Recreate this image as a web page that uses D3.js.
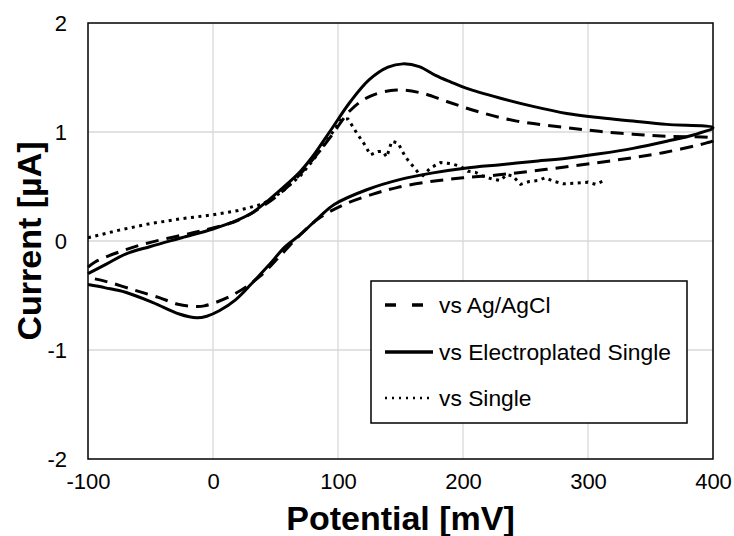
<!DOCTYPE html>
<html>
<head>
<meta charset="utf-8">
<script src="https://cdn.jsdelivr.net/npm/d3@7"></script>
<style>
  html, body { margin: 0; padding: 0; background: #fff; }
  svg { display: block; }
  text { font-family: "Liberation Sans", Arial, sans-serif; fill: #000; }
</style>
</head>
<body>
<svg id="chart" width="734" height="536"></svg>
<script>
// Cyclic voltammograms: potential sweep -100 → 400 → -100 mV
// vs Ag/AgCl (dashed)
const agPotential = [-100, -94, -75, -56, -36, -16, 0, 20, 40, 60, 80, 95, 110, 126, 147, 166, 187, 211, 243, 283, 309, 336, 363, 400,
                     400, 395, 360, 333, 307, 280, 254, 227, 200, 174, 147, 128, 105, 85, 70, 55, 37, 15, -7, -15, -28, -43, -63, -86, -100];
const agCurrent   = [-0.24, -0.19, -0.10, -0.03, 0.025, 0.075, 0.12, 0.19, 0.32, 0.50, 0.75, 0.97, 1.20, 1.33, 1.385, 1.36, 1.28, 1.19, 1.10, 1.04, 1.006, 0.98, 0.96, 0.94,
                     0.92, 0.90, 0.81, 0.76, 0.717, 0.677, 0.64, 0.605, 0.58, 0.545, 0.49, 0.43, 0.335, 0.21, 0.06, -0.12, -0.33, -0.50, -0.595, -0.60, -0.58, -0.52, -0.45, -0.37, -0.335];

// vs Electroplated Single (solid)
const epPotential = [-100, -85, -70, -50, -25, 0, 15, 30, 45, 60, 70, 80, 95, 110, 125, 140, 152, 165, 178, 190, 203, 230, 256, 283, 310, 336, 363, 400,
                     385, 363, 336, 309, 283, 256, 230, 203, 176, 150, 123, 97, 85, 70, 58, 44, 31, 18, 5, -5, -13, -27, -48, -70, -86, -100];
const epCurrent   = [-0.30, -0.21, -0.12, -0.05, 0.03, 0.11, 0.17, 0.25, 0.38, 0.53, 0.64, 0.78, 1.03, 1.28, 1.48, 1.595, 1.625, 1.60, 1.52, 1.46, 1.40, 1.31, 1.235, 1.17, 1.13, 1.10, 1.07, 1.04,
                     0.975, 0.915, 0.85, 0.80, 0.76, 0.73, 0.70, 0.67, 0.625, 0.565, 0.47, 0.335, 0.22, 0.06, -0.05, -0.23, -0.39, -0.54, -0.64, -0.69, -0.705, -0.67, -0.565, -0.47, -0.43, -0.40];

// vs Single (dotted), forward sweep only
const sgPotential = [-100, -75, -50, -25, 0, 20, 40, 55, 70, 80, 90, 97, 103, 108, 115, 121, 126, 132, 136, 139, 143, 148, 154, 159, 164, 168, 174, 182, 190, 198, 204, 210, 216, 223, 230, 235, 240, 246, 253, 260, 266, 272, 280, 290, 300, 306, 312];
const sgCurrent   = [0.03, 0.10, 0.16, 0.205, 0.24, 0.28, 0.34, 0.45, 0.60, 0.74, 0.90, 1.02, 1.12, 1.12, 0.99, 0.89, 0.79, 0.82, 0.82, 0.77, 0.915, 0.90, 0.77, 0.70, 0.63, 0.60, 0.67, 0.72, 0.71, 0.685, 0.64, 0.63, 0.595, 0.57, 0.555, 0.61, 0.595, 0.52, 0.545, 0.555, 0.58, 0.55, 0.525, 0.53, 0.54, 0.52, 0.55];

const xTicks = [-100, 0, 100, 200, 300, 400];
const yTicks = [-2, -1, 0, 1, 2];
const seriesNames = ["vs Ag/AgCl", "vs Electroplated Single", "vs Single"];

const svg = d3.select("#chart");
const margin = { left: 88, right: 21, top: 23, bottom: 77 };
const W = 734, H = 536;

const x = d3.scaleLinear().domain([-100, 400]).range([margin.left, W - margin.right]);
const y = d3.scaleLinear().domain([-2, 2]).range([H - margin.bottom, margin.top]);

// gridlines
const grid = svg.append("g");
grid.selectAll("line.v").data(xTicks.slice(1, -1)).join("line")
  .attr("x1", d => x(d)).attr("x2", d => x(d))
  .attr("y1", y(-2)).attr("y2", y(2))
  .attr("stroke", "#d9d9d9").attr("stroke-width", 1.3);
grid.selectAll("line.h").data(yTicks.slice(1, -1)).join("line")
  .attr("x1", x(-100)).attr("x2", x(400))
  .attr("y1", d => y(d)).attr("y2", d => y(d))
  .attr("stroke", "#d9d9d9").attr("stroke-width", 1.3);

// axes (labels only; frame drawn separately), plain hyphen for negatives
const plain = d => String(d);
const xAxis = svg.append("g").attr("transform", `translate(0,${y(-2)})`)
  .call(d3.axisBottom(x).tickValues(xTicks).tickSize(0).tickPadding(14).tickFormat(plain));
const yAxis = svg.append("g").attr("transform", `translate(${x(-100)},0)`)
  .call(d3.axisLeft(y).tickValues(yTicks).tickSize(0).tickPadding(21).tickFormat(plain));
[xAxis, yAxis].forEach(a => {
  a.select(".domain").remove();
  a.selectAll("text").style("font-size", "22px").attr("font-family", "Liberation Sans, Arial, sans-serif");
});
yAxis.selectAll("text").attr("dy", "0.35em");

// curves
const toPts = (xs, ys) => xs.map((v, i) => [v, ys[i]]);
const smooth = d3.line().x(d => x(d[0])).y(d => y(d[1])).curve(d3.curveCatmullRom.alpha(0.5));
const straight = d3.line().x(d => x(d[0])).y(d => y(d[1]));

const plot = svg.append("g");
plot.append("path").attr("d", straight(toPts(sgPotential, sgCurrent)))
  .attr("fill", "none").attr("stroke", "#000").attr("stroke-width", 3)
  .attr("stroke-dasharray", "3,4.5");
plot.append("path").attr("d", smooth(toPts(agPotential, agCurrent)))
  .attr("fill", "none").attr("stroke", "#000").attr("stroke-width", 3)
  .attr("stroke-dasharray", "13,8");
plot.append("path").attr("d", smooth(toPts(epPotential, epCurrent)))
  .attr("fill", "none").attr("stroke", "#000").attr("stroke-width", 3);

// plot frame
svg.append("rect")
  .attr("x", x(-100)).attr("y", y(2))
  .attr("width", x(400) - x(-100)).attr("height", y(-2) - y(2))
  .attr("fill", "none").attr("stroke", "#000").attr("stroke-width", 1.5);

// axis titles
svg.append("text")
  .attr("x", (x(-100) + x(400)) / 2).attr("y", 530)
  .attr("text-anchor", "middle")
  .style("font-size", "34px").style("font-weight", "bold")
  .text("Potential [mV]");
svg.append("text")
  .attr("transform", `translate(41,${(y(2) + y(-2)) / 2}) rotate(-90)`)
  .attr("text-anchor", "middle")
  .style("font-size", "34px").style("font-weight", "bold")
  .text("Current [µA]");

// legend
const legend = svg.append("g").attr("transform", "translate(371,281)");
legend.append("rect").attr("width", 316).attr("height", 142)
  .attr("fill", "#fff").attr("stroke", "#000").attr("stroke-width", 1.5);
const styles = [
  { dash: "11,16", w: 3.5 },
  { dash: null, w: 3.5 },
  { dash: "2,5", w: 2.5 }
];
const rowY = [24, 71, 117];
seriesNames.forEach((name, i) => {
  const g = legend.append("g").attr("transform", `translate(0,${rowY[i]})`);
  g.append("line").attr("x1", 14).attr("x2", 62).attr("y1", 0).attr("y2", 0)
    .attr("stroke", "#000").attr("stroke-width", styles[i].w)
    .attr("stroke-dasharray", styles[i].dash);
  g.append("text").attr("x", 68).attr("y", 0).attr("dy", "0.35em")
    .style("font-size", "22.8px").text(name);
});
</script>
</body>
</html>
